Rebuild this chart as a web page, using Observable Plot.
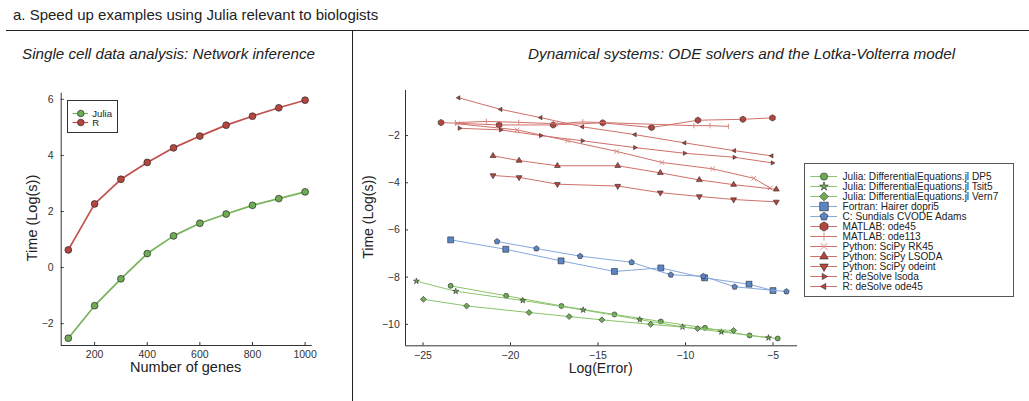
<!DOCTYPE html>
<html><head><meta charset="utf-8">
<script src="https://cdn.jsdelivr.net/npm/d3@7"></script>
<script src="https://cdn.jsdelivr.net/npm/@observablehq/plot@0.6"></script>
<style>
body{margin:0;background:#fff;}
#root{position:relative;width:1029px;height:401px;overflow:hidden;font-family:"Liberation Sans",Arial,sans-serif;color:#222;background:#fff;}
.abs{position:absolute;white-space:nowrap;line-height:1;}
#root svg{position:absolute;max-width:none;}
</style></head><body><div id="root">
<div class="abs" style="left:13px;top:6.6px;font-size:15px;">a. Speed up examples using Julia relevant to biologists</div>
<div class="abs" style="left:6px;top:29.5px;width:1023px;height:1.4px;background:#222"></div>
<div class="abs" style="left:351.5px;top:30px;width:1.4px;height:371px;background:#222"></div>
<div class="abs" style="left:22px;top:46.4px;font-size:15.2px;font-style:italic;">Single cell data analysis: Network inference</div>
<div class="abs" style="left:528px;top:46.4px;font-size:15.3px;font-style:italic;">Dynamical systems: ODE solvers and the Lotka-Volterra model</div>
<div class="abs" style="left:32px;top:218px;font-size:14.5px;transform:translate(-50%,-50%) rotate(-90deg);">Time (Log(s))</div>
<div class="abs" style="left:185.7px;top:359.5px;font-size:14.5px;transform:translateX(-50%);">Number of genes</div>
<div class="abs" style="left:368px;top:217px;font-size:14px;transform:translate(-50%,-50%) rotate(-90deg);">Time (Log(s))</div>
<div class="abs" style="left:600.7px;top:360.5px;font-size:14px;transform:translateX(-50%);">Log(Error)</div>
</div>
<script>
// ---------- Data: left panel ----------
const genes = [100, 200, 300, 400, 500, 600, 700, 800, 900, 1000];
const juliaTime = [-2.52, -1.36, -0.40, 0.50, 1.13, 1.58, 1.91, 2.22, 2.46, 2.70];
const rTime = [0.63, 2.27, 3.15, 3.75, 4.27, 4.69, 5.08, 5.40, 5.70, 5.97];
const leftSeriesNames = ["Julia", "R"];
const leftXTicks = [200, 400, 600, 800, 1000];
const leftYTicks = [-2, 0, 2, 4, 6];

// ---------- Data: right panel (Log(Error), Time (Log(s))) ----------
const dp5Err = [-23.42, -20.25, -17.09, -14.06, -11.41, -8.89, -6.34, -4.73];
const dp5Time = [-8.37, -8.79, -9.22, -9.58, -9.88, -10.15, -10.47, -10.60];
const tsit5Err = [-25.38, -23.13, -19.30, -15.85, -12.61, -10.17, -7.95, -5.26];
const tsit5Time = [-8.17, -8.60, -8.99, -9.39, -9.80, -10.11, -10.32, -10.57];
const vern7Err = [-24.98, -22.51, -18.94, -16.65, -14.78, -11.99, -9.31, -7.25];
const vern7Time = [-8.94, -9.22, -9.50, -9.67, -9.81, -10.00, -10.18, -10.26];
const fortranErr = [-23.42, -20.27, -17.11, -14.06, -11.41, -8.91, -6.37, -5.00];
const fortranTime = [-6.42, -6.82, -7.31, -7.76, -7.61, -8.03, -8.30, -8.57];
const cvodeErr = [-20.77, -18.52, -16.02, -13.08, -10.84, -8.98, -7.19, -4.23];
const cvodeTime = [-6.49, -6.79, -7.11, -7.37, -7.90, -7.96, -8.41, -8.61];
const matlabOde45Err = [-23.97, -20.65, -17.56, -14.73, -11.94, -9.29, -6.72, -5.03];
const matlabOde45Time = [-1.45, -1.55, -1.55, -1.46, -1.66, -1.35, -1.31, -1.25];
const ode113Err = [-23.15, -21.38, -19.53, -17.33, -15.87, -9.52, -8.60, -7.55];
const ode113Time = [-1.45, -1.40, -1.44, -1.50, -1.42, -1.58, -1.58, -1.61];
const rk45Err = [-23.05, -19.62, -16.73, -13.94, -11.35, -8.45, -6.10, -5.17];
const rk45Time = [-1.50, -1.76, -2.22, -2.67, -3.14, -3.41, -3.81, -4.22];
const lsodaErr = [-21.00, -19.51, -17.32, -13.87, -11.44, -9.21, -7.25, -4.81];
const lsodaTime = [-2.86, -3.06, -3.28, -3.28, -3.58, -3.88, -4.08, -4.28];
const odeintErr = [-21.00, -19.51, -17.32, -13.87, -11.44, -9.21, -7.25, -4.81];
const odeintTime = [-3.69, -3.77, -4.06, -4.14, -4.42, -4.58, -4.71, -4.81];
const rLsodaErr = [-22.92, -20.56, -18.27, -15.89, -12.89, -10.05, -7.21, -5.03];
const rLsodaTime = [-1.69, -1.76, -2.00, -2.22, -2.51, -2.75, -2.92, -3.16];
const rOde45Err = [-22.96, -20.56, -18.27, -15.89, -12.89, -10.05, -7.21, -5.07];
const rOde45Time = [-0.40, -0.89, -1.24, -1.63, -1.96, -2.31, -2.64, -2.86];
const seriesNames = [
  "Julia: DifferentialEquations.jl DP5",
  "Julia: DifferentialEquations.jl Tsit5",
  "Julia: DifferentialEquations.jl Vern7",
  "Fortran: Hairer dopri5",
  "C: Sundials CVODE Adams",
  "MATLAB: ode45",
  "MATLAB: ode113",
  "Python: SciPy RK45",
  "Python: SciPy LSODA",
  "Python: SciPy odeint",
  "R: deSolve lsoda",
  "R: deSolve ode45"
];
const rightXTicks = [-25, -20, -15, -10, -5];
const rightYTicks = [-10, -8, -6, -4, -2];

// ---------- Symbols ----------
const mk = (f) => ({draw(c, size) { const r = Math.sqrt(size / Math.PI); f(c, r); }});
const poly = (n, rot, k = 1) => mk((c, r) => {
  for (let i = 0; i < n; i++) {
    const a = rot + i * 2 * Math.PI / n;
    const x = k * r * Math.sin(a), y = -k * r * Math.cos(a);
    i ? c.lineTo(x, y) : c.moveTo(x, y);
  }
  c.closePath();
});
const starSym = mk((c, r) => {
  for (let i = 0; i < 10; i++) {
    const a = i * Math.PI / 5, rr = i % 2 ? r * 0.45 : r * 1.25;
    const x = rr * Math.sin(a), y = -rr * Math.cos(a);
    i ? c.lineTo(x, y) : c.moveTo(x, y);
  }
  c.closePath();
});
const S = {
  circle: "circle",
  star: starSym,
  diamond: poly(4, 0, 1.3),
  square: poly(4, Math.PI / 4, 1.35),
  pentagon: poly(5, 0, 1.12),
  hexagon: poly(6, 0, 1.1),
  triUp: poly(3, 0, 1.35),
  triDown: poly(3, Math.PI, 1.35),
  triRight: poly(3, Math.PI / 2, 1.35),
  triLeft: poly(3, -Math.PI / 2, 1.35),
  vline: mk((c, r) => { c.moveTo(0, -r); c.lineTo(0, r); }),
  xmark: mk((c, r) => { c.moveTo(-r, -r); c.lineTo(r, r); c.moveTo(-r, r); c.lineTo(r, -r); })
};

// ---------- Styles ----------
const GREEN = {line: "#8cc46c", fill: "#6faa55"};
const BLUE = {line: "#86a8dc", fill: "#5b86c6"};
const RED = {line: "#cf716b", fill: "#b5463f"};
const DARK = "#2a2a2a";
const styles = [
  {c: GREEN, sym: S.circle, r: 2.5},
  {c: GREEN, sym: S.star, r: 2.5},
  {c: GREEN, sym: S.diamond, r: 2.3},
  {c: BLUE, sym: S.square, r: 3.1},
  {c: BLUE, sym: S.pentagon, r: 2.6},
  {c: RED, sym: S.hexagon, r: 2.9},
  {c: RED, sym: S.vline, r: 2.7, open: true},
  {c: RED, sym: S.xmark, r: 2.3, open: true},
  {c: RED, sym: S.triUp, r: 2.5},
  {c: RED, sym: S.triDown, r: 2.5},
  {c: RED, sym: S.triRight, r: 1.8},
  {c: RED, sym: S.triLeft, r: 1.8}
];
const rightData = [
  [dp5Err, dp5Time], [tsit5Err, tsit5Time], [vern7Err, vern7Time],
  [fortranErr, fortranTime], [cvodeErr, cvodeTime],
  [matlabOde45Err, matlabOde45Time], [ode113Err, ode113Time],
  [rk45Err, rk45Time], [lsodaErr, lsodaTime], [odeintErr, odeintTime],
  [rLsodaErr, rLsodaTime], [rOde45Err, rOde45Time]
];

const FONT = "'Liberation Sans', Arial, sans-serif";
const root = document.getElementById("root");
function place(svg, left, top) { svg.style.left = left + "px"; svg.style.top = top + "px"; root.appendChild(svg); }

function dotMark(data, opts, st, scaleR = 1) {
  return Plot.dot(data, {
    ...opts, symbol: st.sym, r: st.r * scaleR,
    fill: st.open ? "none" : st.c.fill,
    stroke: st.open ? "#d98a84" : DARK,
    strokeWidth: st.open ? 1 : 0.6
  });
}

// ---------- Left chart ----------
const leftRows = (ys, name) => genes.map((g, i) => ({g, t: ys[i], name}));
const juliaRows = leftRows(juliaTime, leftSeriesNames[0]);
const rRows = leftRows(rTime, leftSeriesNames[1]);
const LX = [73, 1027], LY = [-2.78, 6.22];
const left = Plot.plot({
  width: 352, height: 310,
  marginLeft: 60.7, marginRight: 40.3, marginTop: 12.7, marginBottom: 45,
  x: {domain: LX}, y: {domain: LY},
  style: {background: "transparent", fontFamily: FONT, fontSize: "10.5px", color: "#333", overflow: "visible"},
  marks: [
    Plot.axisX({ticks: leftXTicks, tickFormat: d => String(d), tickSize: -3, tickPadding: 8, label: null}),
    Plot.axisY({ticks: leftYTicks, tickSize: -3, tickPadding: 10.5, label: null}),
    Plot.ruleX([LX[0]], {stroke: "#333", strokeWidth: 1}),
    Plot.ruleY([LY[0]], {stroke: "#333", strokeWidth: 1}),
    Plot.line(juliaRows, {x: "g", y: "t", stroke: "#76b35a", strokeWidth: 1.7}),
    Plot.dot(juliaRows, {x: "g", y: "t", r: 3.4, fill: "#6faa55", stroke: DARK, strokeWidth: 0.7}),
    Plot.line(rRows, {x: "g", y: "t", stroke: "#c0504b", strokeWidth: 1.7}),
    Plot.dot(rRows, {x: "g", y: "t", r: 3.4, fill: "#b5463f", stroke: DARK, strokeWidth: 0.7})
  ]
});
place(left, 0, 80);

// left legend
const leftLegend = Plot.plot({
  width: 49, height: 31, margin: 0,
  x: {domain: [0, 49], axis: null},
  y: {type: "point", padding: 0, domain: leftSeriesNames, range: [11.5, 20.8], axis: null},
  style: {background: "#fff", fontFamily: FONT, fontSize: "9.6px", color: "#222", overflow: "visible", border: "1px solid #333", boxSizing: "content-box"},
  marks: [
    Plot.ruleY(leftSeriesNames, {y: d => d, x1: 4.5, x2: 20, stroke: (d, i) => i ? "#c0504b" : "#76b35a", strokeWidth: 1.2}),
    Plot.dot(leftSeriesNames, {y: d => d, x: 12.3, r: 3.3, fill: (d, i) => i ? "#b5463f" : "#6faa55", stroke: DARK, strokeWidth: 0.7}),
    Plot.text(leftSeriesNames, {y: d => d, x: 23.8, text: d => d, textAnchor: "start", fill: "#222"})
  ]
});
place(leftLegend, 66.5, 100);

// ---------- Right chart ----------
const RX = [-26.0, -3.6], RY = [-10.91, -0.09];
const rightMarks = [];
rightData.forEach(([xs, ys], k) => {
  const rows = xs.map((x, i) => ({x, y: ys[i]}));
  const st = styles[k];
  rightMarks.push(Plot.line(rows, {x: "x", y: "y", stroke: st.c.line, strokeWidth: 1}));
  rightMarks.push(dotMark(rows, {x: "x", y: "y"}, st));
});
const right = Plot.plot({
  width: 677, height: 326,
  marginLeft: 53, marginRight: 232, marginTop: 15, marginBottom: 55.7,
  x: {domain: RX}, y: {domain: RY},
  style: {background: "transparent", fontFamily: FONT, fontSize: "10.5px", color: "#333", overflow: "visible"},
  marks: [
    Plot.axisX({ticks: rightXTicks, tickSize: -3, tickPadding: 9, label: null}),
    Plot.axisY({ticks: rightYTicks, tickSize: -3, tickPadding: 8.7, label: null}),
    Plot.ruleX([RX[0]], {stroke: "#333", strokeWidth: 1}),
    Plot.ruleY([RY[0]], {stroke: "#333", strokeWidth: 1}),
    ...rightMarks
  ]
});
place(right, 352, 75);

// right legend
const legendMarks = [];
seriesNames.forEach((name, k) => {
  const st = styles[k];
  legendMarks.push(Plot.ruleY([name], {y: d => d, x1: 5.3, x2: 32, stroke: st.c.line, strokeWidth: 1}));
  legendMarks.push(dotMark([name], {y: d => d, x: 18.5}, st, 1.45));
});
const rightLegend = Plot.plot({
  width: 208, height: 132, margin: 0,
  x: {domain: [0, 208], axis: null},
  y: {type: "point", padding: 0, domain: seriesNames, range: [11, 123.7], axis: null},
  style: {background: "#fff", fontFamily: FONT, fontSize: "10.1px", color: "#222", overflow: "visible", border: "1px solid #555", boxSizing: "content-box"},
  marks: [
    ...legendMarks,
    Plot.text(seriesNames, {y: d => d, x: 37, text: d => d, textAnchor: "start", fill: "#222"})
  ]
});
place(rightLegend, 804, 163);
</script>
</body></html>
